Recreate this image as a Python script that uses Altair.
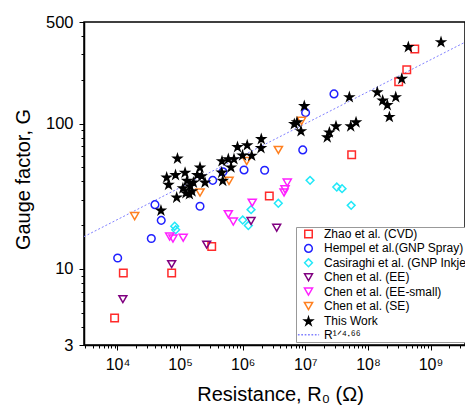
import altair as alt
import pandas as pd

series = ["Zhao et al. (CVD)", "Hempel et al.(GNP Spray)", "Casiraghi et al. (GNP Inkjet)",
          "Chen et al. (EE)", "Chen et al. (EE-small)", "Chen et al. (SE)", "This Work", "R¹ᐟ⁴·⁶⁶"]
colors = ["#ff2a2a", "#2020ff", "#22e8f8", "#800080", "#ff20ff", "#ff8020", "#000000", "#8080ff"]
fills = ["transparent"] * 6 + ["#000000", "transparent"]
dash_path = "M-2.5,0H-2.1M-1.7,0H-1.3M-0.9,0H-0.5M-0.1,0H0.3M0.7,0H1.1M1.5,0H1.9M2.3,0H2.5"
star_path = ("M0,-1L0.225,-0.309L0.951,-0.309L0.363,0.118L0.588,0.809L0,0.382"
             "L-0.588,0.809L-0.363,0.118L-0.951,-0.309L-0.225,-0.309Z")
shapes = ["square", "circle", "diamond", "triangle-down", "triangle-down", "triangle-down", star_path, dash_path]
sizes = [56, 72, 100, 100, 100, 100, 160, 100]

zhao_R = [9000, 12400, 73400, 320000, 2.66e6, 5.5e7, 3.1e8, 4.17e8, 5.6e8]
zhao_G = [4.6, 9.4, 9.4, 14.3, 31.8, 61, 194, 235, 326]

hempel_R = [10070, 34700, 50000, 39700, 208000, 332000, 484000, 1.05e6, 2.24e6, 9.1e6, 1.01e7, 2.87e7]
hempel_G = [11.9, 16.2, 21.6, 27.7, 27.0, 40.7, 46.6, 48, 47.8, 65.9, 119, 160]

cas_R = [82000, 85000, 1.0e6, 1.23e6, 1.36e6, 3.7e6, 1.19e7, 3.18e7, 3.86e7, 5.4e7]
cas_G = [19.7, 18.6, 21.7, 19.9, 25.6, 28.3, 40.7, 36.6, 35.7, 27.4]

chen_ee_R = [12200, 73400, 266000, 1.36e6, 3.49e6]
chen_ee_G = [6.2, 10.8, 14.7, 21.4, 19.2]

chen_small_R = [68200, 77000, 112000, 589000, 708000, 1.42e6, 4.57e6, 4.74e6, 5.15e6]
chen_small_G = [16.7, 16.2, 16.4, 23.8, 21.2, 28.6, 33.6, 35.3, 39.3]

chen_se_R = [18800, 208000, 604000, 1.16e6, 3.71e6, 8.7e6]
chen_se_G = [23.1, 33.6, 40.4, 55.3, 65.9, 104.5]

work_R = [9.08e4, 6.11e4, 6.53e4, 8.45e4, 1.20e5, 1.29e5, 1.44e5, 1.41e5, 8.83e4, 4.95e4,
          2.08e5, 2.21e5, 1.63e5, 2.50e5, 1.88e5, 4.67e5, 5.89e5, 7.26e5, 4.62e5, 4.80e5,
          6.50e5, 8.26e5, 9.93e5, 1.18e6, 1.39e6, 1.98e6, 1.96e6, 6.67e6, 7.36e6, 8.53e6,
          9.63e6, 2.24e7, 2.42e7, 3.09e7, 5.31e7, 6.46e7, 5.05e7, 1.41e8, 1.72e8, 2.04e8,
          2.78e8, 2.20e8, 3.47e8, 4.42e8, 1.47e9, 1.11e5, 1.24e5, 1.55e5]
work_G = [57.5, 42.5, 37.9, 44.2, 45.9, 40.4, 37.1, 32.7, 31.0, 25.2,
          49.8, 43.5, 39.3, 39.3, 44.2, 55.1, 56.9, 56.9, 46.0, 40.4,
          49.9, 68.9, 60.4, 70.8, 60.1, 78.2, 67.8, 99.3, 102, 88.7,
          132, 80.4, 86.9, 95.7, 95.7, 102, 152, 164, 144, 134,
          152, 111, 203, 336, 363, 35.9, 33.2, 34.2]

fit_R = [2920, 3.55e9]
fit_G = [16.7, 363]

x_major = [1e4, 1e5, 1e6, 1e7, 1e8, 1e9]
x_minor = [m * 10 ** e for e in range(3, 10) for m in range(2, 10)
           if 2920 <= m * 10 ** e <= 3.55e9]
y_major = [3, 10, 100, 500]
y_minor = [4, 5, 6, 7, 8, 9, 20, 30, 40, 50, 60, 70, 80, 90, 200, 300, 400]

rows = []
groups = [(series[0], zhao_R, zhao_G), (series[1], hempel_R, hempel_G), (series[2], cas_R, cas_G),
          (series[3], chen_ee_R, chen_ee_G), (series[4], chen_small_R, chen_small_G),
          (series[5], chen_se_R, chen_se_G), (series[6], work_R, work_G)]
for name, rs, gs in groups:
    for r, g in zip(rs, gs):
        rows.append({"series": name, "R": r, "G": g})
df = pd.DataFrame(rows)
fit_df = pd.DataFrame({"R": fit_R, "G": fit_G})

FONT = "Liberation Sans"
sup = "['⁰','¹','²','³','⁴','⁵','⁶','⁷','⁸','⁹']"

xs = alt.Scale(type="log", domain=[2920, 3.55e9], nice=False)
ys = alt.Scale(type="log", domain=[3, 500], nice=False)

x_axis_major = alt.Axis(values=x_major, orient="bottom", tickSize=5,
                        labelExpr=f"'10' + {sup}[round(log(datum.value)/LN10)]",
                        labelOverlap=False, labelPadding=6, titlePadding=12, labelFlush=False,
                        titleX=196)
x_axis_minor = alt.Axis(values=x_minor, orient="bottom", tickSize=3, labels=False,
                        domain=False, title=None)
y_axis_major = alt.Axis(values=y_major, orient="left", tickSize=5, labelExpr="'' + datum.value",
                        labelOverlap=False, labelPadding=6, titlePadding=12, labelFlush=False,
                        titleY=157, labelFontSize=16.5)
y_axis_minor = alt.Axis(values=y_minor, orient="left", tickSize=3, labels=False,
                        domain=False, title=None)

leg = alt.Legend(title=None, orient="none", legendX=212, legendY=205, labelFont=FONT,
                 labelFontSize=12, labelColor="black", strokeColor="#999999", fillColor="white",
                 padding=1, rowPadding=0.4, symbolOffset=5.5, labelOffset=9.5, labelLimit=400,
                 symbolStrokeWidth=1.5)

line = alt.Chart(fit_df).mark_line(color="#8080ff", strokeDash=[2, 2], strokeWidth=1, clip=True).encode(
    x=alt.X("R:Q", scale=xs, axis=x_axis_major, title="Resistance, R₀ (Ω)"),
    y=alt.Y("G:Q", scale=ys, axis=y_axis_major, title="Gauge factor, G"),
)

points = alt.Chart(df).mark_point(strokeWidth=1.5, opacity=1, clip=True).encode(
    x=alt.X("R:Q", scale=xs, axis=x_axis_minor),
    y=alt.Y("G:Q", scale=ys, axis=y_axis_minor),
    shape=alt.Shape("series:N", scale=alt.Scale(domain=series, range=shapes), legend=leg),
    stroke=alt.Stroke("series:N", scale=alt.Scale(domain=series, range=colors), legend=leg),
    fill=alt.Fill("series:N", scale=alt.Scale(domain=series, range=fills), legend=leg),
    size=alt.Size("series:N", scale=alt.Scale(domain=series, range=sizes), legend=leg),
)

chart = alt.layer(line, points).resolve_axis(x="independent", y="independent").properties(
    width=381, height=323,
    padding={"left": 84, "top": 22, "right": 0, "bottom": 62},
    autosize=alt.AutoSizeParams(type="none"),
).configure_view(stroke="black", strokeWidth=1.5).configure_axis(
    domainColor="black", domainWidth=1.5, tickColor="black", tickWidth=1,
    labelFont=FONT, labelFontSize=16, labelColor="black",
    titleFont=FONT, titleFontSize=20, titleFontWeight="normal", titleColor="black", grid=False,
)

chart.save("out.html", embed_options={"renderer": "svg", "actions": False})
